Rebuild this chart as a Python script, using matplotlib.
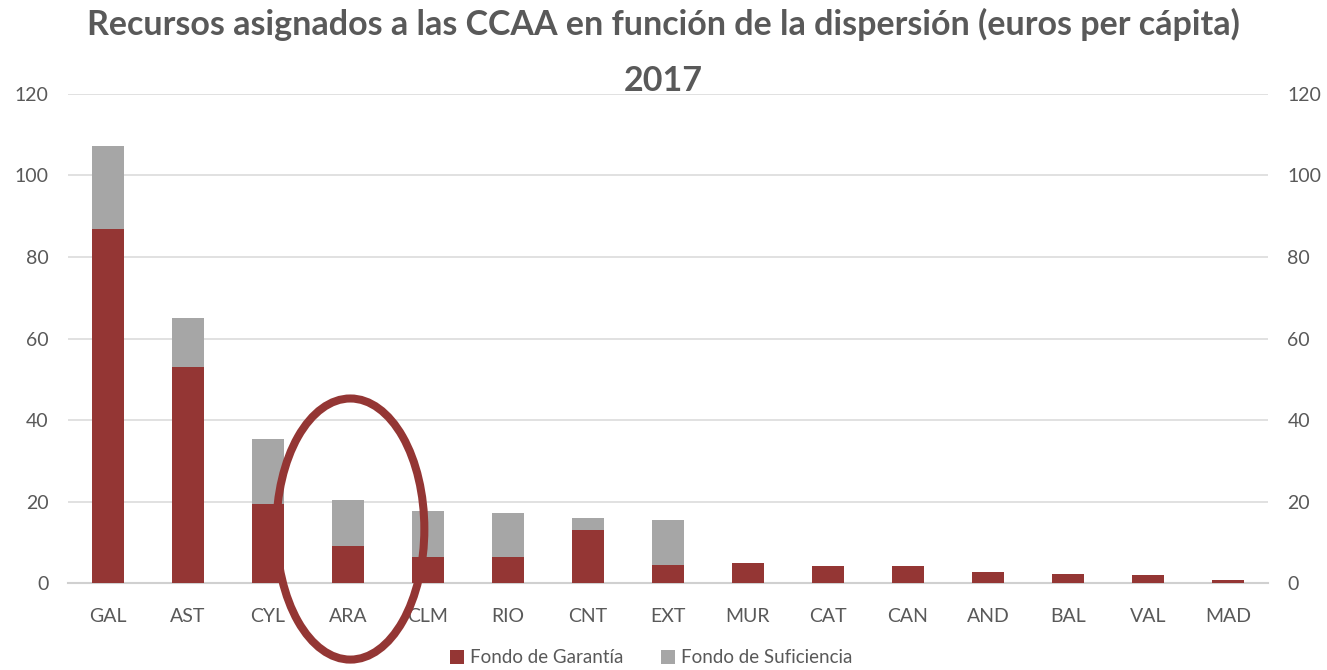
import numpy as np
import matplotlib.pyplot as plt
from matplotlib.patches import Ellipse

ccaa = ['GAL', 'AST', 'CYL', 'ARA', 'CLM', 'RIO', 'CNT', 'EXT',
        'MUR', 'CAT', 'CAN', 'AND', 'BAL', 'VAL', 'MAD']
garantia = [86.8, 53.0, 19.4, 9.1, 6.5, 6.4, 13.1, 4.5,
            5.05, 4.2, 4.2, 2.8, 2.3, 1.96, 0.9]
suficiencia = [20.4, 12.0, 15.9, 11.2, 11.2, 10.8, 3.0, 11.1,
               0, 0, 0, 0, 0, 0, 0]

red = '#943634'
grey = '#a6a6a6'
txt = '#595959'

plt.rcParams['font.family'] = ['Lato', 'DejaVu Sans']

fig = plt.figure(figsize=(13.27, 6.70), dpi=100)
ax = fig.add_axes([0.0512, 0.1294, 0.9043, 0.7307])

x = np.arange(len(ccaa))
ax.bar(x, garantia, width=0.4, color=red, label='Fondo de Garantía', zorder=3)
ax.bar(x, suficiencia, width=0.4, bottom=garantia, color=grey,
       label='Fondo de Suficiencia', zorder=3)

ax.set_xlim(-0.5, len(ccaa) - 0.5)
ax.set_ylim(0, 120)
ax.set_yticks(np.arange(0, 121, 20))
ax.set_xticks(x)
ax.set_xticklabels(ccaa)
ax.grid(axis='y', color='#d9d9d9', linewidth=1.1, zorder=0)
for s in ['top', 'left', 'right']:
    ax.spines[s].set_visible(False)
ax.spines['bottom'].set_color('#d0d0d0')
ax.spines['bottom'].set_linewidth(1.5)
ax.tick_params(axis='both', length=0, colors=txt, labelsize=14, pad=14)
ax.tick_params(axis='x', pad=18)

ax2 = ax.twinx()
ax2.set_ylim(0, 120)
ax2.set_yticks(np.arange(0, 121, 20))
for s in ax2.spines.values():
    s.set_visible(False)
ax2.tick_params(axis='y', length=0, colors=txt, labelsize=14, pad=14)

# circle around ARA
ell = Ellipse((3.03, 13.3), 1.85, 64, fill=False, edgecolor=red,
              linewidth=5.8, clip_on=False, zorder=5)
ax.add_patch(ell)

fig.text(0.5, 0.963, 'Recursos asignados a las CCAA en función de la dispersión (euros per cápita)',
         ha='center', va='center', fontsize=24.5, fontweight='bold', color=txt)
fig.text(0.5, 0.879, '2017', ha='center', va='center', fontsize=24.5,
         fontweight='bold', color=txt)

ax.legend(loc='center', bbox_to_anchor=(0.486, -0.152), ncol=2, frameon=False,
          fontsize=13.5, labelcolor=txt, handlelength=0.75, handleheight=0.75,
          handletextpad=0.3, columnspacing=2.0, borderaxespad=0)

plt.savefig('out.png', dpi=100)
